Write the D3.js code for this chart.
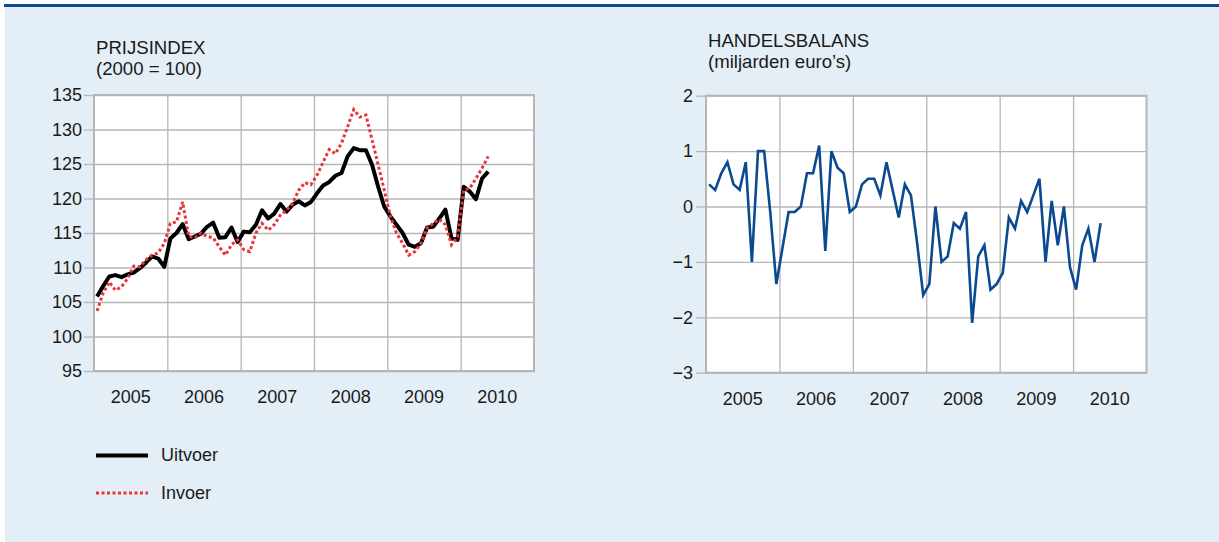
<!DOCTYPE html>
<html>
<head>
<meta charset="utf-8">
<script src="https://cdn.jsdelivr.net/npm/d3@7"></script>
<style>
  body { margin: 0; background: #fff; }
  text { font-family: "Liberation Sans", Arial, sans-serif; font-size: 18px; fill: #1a1a1a; }
  .title { font-size: 18.6px; }
</style>
</head>
<body>
<svg id="chart"></svg>
<script>
// monthly values, jan 2005 - may 2010
const years = [2005, 2006, 2007, 2008, 2009, 2010];

const uitvoer = [
    105.8, 107.3, 108.7, 108.9, 108.6, 109.0, 109.25, 109.9, 110.7, 111.6, 111.3, 110.1,
    114.2, 115.0, 116.3, 114.1, 114.5, 114.9, 115.9, 116.5, 114.3, 114.4, 115.8, 113.7,
    115.2, 115.1, 116.2, 118.3, 117.1, 117.8, 119.2, 118.1, 119.1, 119.6, 119.0, 119.5,
    120.75, 121.9, 122.4, 123.3, 123.7, 126.1, 127.3, 127.0, 127.0, 124.9, 121.7, 118.8,
    117.4, 116.2, 115.0, 113.3, 113.0, 113.5, 115.8, 115.9, 117.1, 118.4, 114.2, 114.0,
    121.7, 121.0, 119.9, 122.9, 123.9
];

const invoer = [
    103.7, 106.3, 107.9, 106.7, 107.2, 108.4, 110.2, 110.1, 111.1, 111.8, 112.1, 113.5,
    116.4, 116.6, 119.5, 114.5, 114.3, 115.0, 114.5, 114.3, 113.0, 111.8, 113.3, 114.0,
    112.6, 112.3, 115.0, 116.4, 115.4, 116.2, 117.6, 118.3, 119.3, 121.2, 122.3, 122.0,
    123.4, 125.3, 127.1, 126.5, 128.0, 130.4, 132.9, 131.8, 132.1, 128.5, 124.9, 121.2,
    117.4, 115.0, 113.5, 111.8, 112.3, 113.5, 115.7, 116.4, 117.0, 116.2, 113.3, 114.5,
    121.2, 121.5, 122.9, 124.4, 126.1
];

const handelsbalans = [
    0.4, 0.3, 0.6, 0.8, 0.4, 0.3, 0.8, -1.0, 1.0, 1.0, -0.1, -1.4,
    -0.75, -0.1, -0.1, 0.0, 0.6, 0.6, 1.1, -0.8, 1.0, 0.7, 0.6, -0.1,
    0.0, 0.4, 0.5, 0.5, 0.2, 0.8, 0.3, -0.2, 0.4, 0.2, -0.65, -1.6,
    -1.4, 0.0, -1.0, -0.9, -0.3, -0.4, -0.1, -2.1, -0.9, -0.7, -1.5, -1.4,
    -1.2, -0.2, -0.4, 0.1, -0.1, 0.2, 0.5, -1.0, 0.1, -0.7, 0.0, -1.1,
    -1.5, -0.7, -0.4, -1.0, -0.3
];

const prijsTicks = [95, 100, 105, 110, 115, 120, 125, 130, 135];
const balansTicks = [-3, -2, -1, 0, 1, 2];

const W = 1219, H = 542;
const gridColor = "#b6b6b8";

const svg = d3.select("#chart")
    .attr("width", W)
    .attr("height", H);

// panel background + top rule
svg.append("rect")
    .attr("x", 5).attr("y", 4)
    .attr("width", W - 5).attr("height", H - 4)
    .attr("fill", "#e3eef6");
svg.append("line")
    .attr("x1", 4).attr("x2", W)
    .attr("y1", 5.5).attr("y2", 5.5)
    .attr("stroke", "#0d4c92")
    .attr("stroke-width", 3);

// month i -> decimal year at middle of month
const monthPos = i => years[0] + (i + 0.5) / 12;

function drawPanel(opts) {
    const g = svg.append("g");
    const x = d3.scaleLinear()
        .domain([years[0], years[years.length - 1] + 1])
        .range([opts.left, opts.right]);
    const y = d3.scaleLinear()
        .domain(opts.domain)
        .range([opts.bottom, opts.top]);

    g.append("rect")
        .attr("x", opts.left).attr("y", opts.top)
        .attr("width", opts.right - opts.left)
        .attr("height", opts.bottom - opts.top)
        .attr("fill", "#fff");

    // horizontal grid
    g.append("g")
        .attr("transform", `translate(${opts.left},0)`)
        .call(d3.axisLeft(y).tickValues(opts.ticks).tickSize(-(opts.right - opts.left)).tickFormat(""))
        .call(a => a.select(".domain").remove())
        .call(a => a.selectAll("line").attr("stroke", gridColor).attr("stroke-width", 1.3));

    // vertical grid at year boundaries
    g.append("g")
        .attr("transform", `translate(0,${opts.bottom})`)
        .call(d3.axisBottom(x).tickValues(years.slice(1)).tickSize(-(opts.bottom - opts.top)).tickFormat(""))
        .call(a => a.select(".domain").remove())
        .call(a => a.selectAll("line").attr("stroke", gridColor).attr("stroke-width", 1.3));

    // y tick marks and labels
    g.append("g")
        .attr("transform", `translate(${opts.left},0)`)
        .call(d3.axisLeft(y).tickValues(opts.ticks).tickSize(10).tickPadding(opts.pad)
            .tickFormat(d => d < 0 ? "\u2212" + Math.abs(d) : d))
        .call(a => a.select(".domain").remove())
        .call(a => a.selectAll("line").attr("stroke", gridColor).attr("stroke-width", 1.3))
        .call(a => a.selectAll("text")
            .style("font-family", "'Liberation Sans', Arial, sans-serif")
            .style("font-size", "18px").attr("fill", "#1a1a1a"));

    // frame
    g.append("rect")
        .attr("x", opts.left).attr("y", opts.top)
        .attr("width", opts.right - opts.left)
        .attr("height", opts.bottom - opts.top)
        .attr("fill", "none")
        .attr("stroke", gridColor)
        .attr("stroke-width", 2);

    // year labels, centred in each year
    g.selectAll(".yr")
        .data(years)
        .join("text")
        .attr("x", d => x(d + 0.5))
        .attr("y", opts.bottom + 32)
        .attr("text-anchor", "middle")
        .text(d => d);

    // title
    g.append("text").attr("class", "title").attr("x", opts.left + 2).attr("y", opts.titleY).text(opts.title[0]);
    g.append("text").attr("class", "title").attr("x", opts.left + 2).attr("y", opts.titleY + 21).text(opts.title[1]);

    return {g, x, y};
}

// ---------- PRIJSINDEX ----------
const p1 = drawPanel({
    left: 94, right: 534, top: 95, bottom: 371,
    domain: [95, 135], ticks: prijsTicks, pad: 2,
    title: ["PRIJSINDEX", "(2000 = 100)"], titleY: 54
});

const line1 = d3.line()
    .x((d, i) => p1.x(monthPos(i)))
    .y(d => p1.y(d));

p1.g.append("path")
    .datum(uitvoer)
    .attr("fill", "none")
    .attr("stroke", "#000")
    .attr("stroke-width", 4)
    .attr("stroke-linejoin", "round")
    .attr("d", line1);

p1.g.append("path")
    .datum(invoer)
    .attr("fill", "none")
    .attr("stroke", "#e8343a")
    .attr("stroke-width", 3)
    .attr("stroke-dasharray", "3,2.5")
    .attr("d", line1);

// legend
const legend = [
    {name: "Uitvoer", color: "#000", width: 4, dash: null, y: 455.5},
    {name: "Invoer", color: "#e8343a", width: 3, dash: "3,2.5", y: 493}
];
legend.forEach(l => {
    svg.append("line")
        .attr("x1", 96).attr("x2", 148)
        .attr("y1", l.y).attr("y2", l.y)
        .attr("stroke", l.color)
        .attr("stroke-width", l.width)
        .attr("stroke-dasharray", l.dash);
    svg.append("text")
        .attr("x", 161).attr("y", l.y + 5.5)
        .text(l.name);
});

// ---------- HANDELSBALANS ----------
const p2 = drawPanel({
    left: 706, right: 1146.5, top: 95.7, bottom: 372.7,
    domain: [-3, 2], ticks: balansTicks, pad: 3,
    title: ["HANDELSBALANS", "(miljarden euro\u2019s)"], titleY: 47
});

const line2 = d3.line()
    .x((d, i) => p2.x(monthPos(i)))
    .y(d => p2.y(d));

p2.g.append("path")
    .datum(handelsbalans)
    .attr("fill", "none")
    .attr("stroke", "#0b4a90")
    .attr("stroke-width", 2.6)
    .attr("stroke-linejoin", "miter")
    .attr("d", line2);
</script>
</body>
</html>
